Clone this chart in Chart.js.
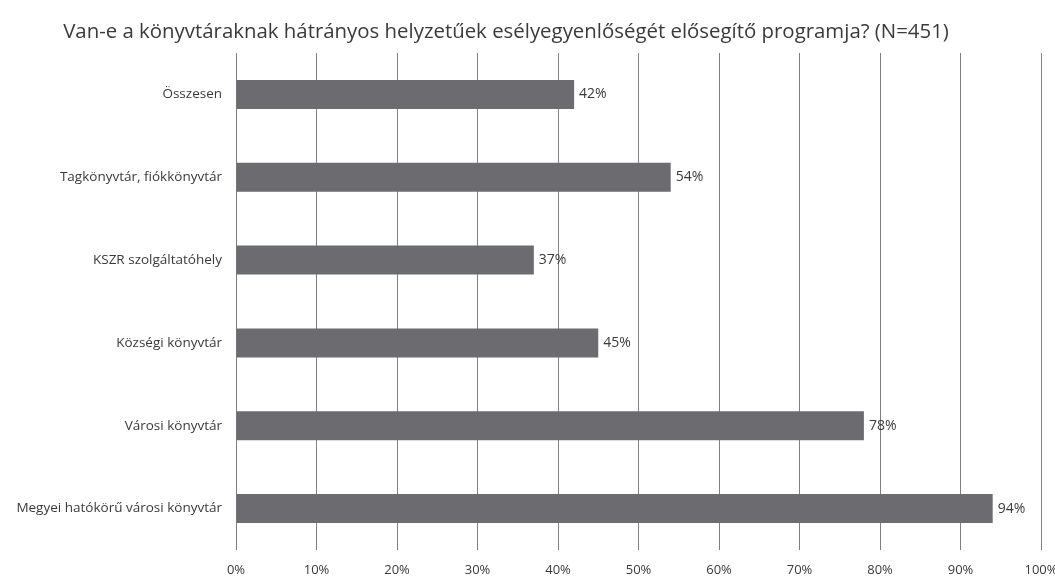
<!DOCTYPE html>
<html>
<head>
<meta charset="utf-8">
<script src="https://cdn.jsdelivr.net/npm/chart.js@4"></script>
<style>
    html, body { margin: 0; padding: 0; background: #fff; overflow: hidden; }
    #wrap { width: 1055px; height: 578px; }
</style>
</head>
<body>
<div id="wrap"><canvas id="chart"></canvas></div>
<script>
const title = 'Van-e a könyvtáraknak hátrányos helyzetűek esélyegyenlőségét elősegítő programja? (N=451)';
const categories = [
    'Összesen',
    'Tagkönyvtár, fiókkönyvtár',
    'KSZR szolgáltatóhely',
    'Községi könyvtár',
    'Városi könyvtár',
    'Megyei hatókörű városi könyvtár'
];
const values = [42, 54, 37, 45, 78, 94];
const xTicks = [0, 10, 20, 30, 40, 50, 60, 70, 80, 90, 100];

const fontFamily = '"Open Sans", "Noto Sans", sans-serif';
const textColor = '#3a3a3a';
const gridColor = '#808080';

// title is drawn by hand so it can sit slightly left of centre, as in the source
const titleText = {
    id: 'titleText',
    afterDraw(chart) {
        const { ctx } = chart;
        ctx.save();
        ctx.font = `20.4px ${fontFamily}`;
        ctx.fillStyle = textColor;
        ctx.textAlign = 'center';
        ctx.textBaseline = 'middle';
        ctx.fillText(title, 506, 32);
        ctx.restore();
    }
};

// labels to the right of each bar
const barLabels = {
    id: 'barLabels',
    afterDatasetsDraw(chart) {
        const { ctx } = chart;
        const meta = chart.getDatasetMeta(0);
        ctx.save();
        ctx.font = `14px ${fontFamily}`;
        ctx.fillStyle = textColor;
        ctx.textAlign = 'left';
        ctx.textBaseline = 'middle';
        meta.data.forEach((bar, i) => {
            ctx.fillText(values[i] + '%', bar.x + 5, bar.y);
        });
        ctx.restore();
    }
};

new Chart(document.getElementById('chart'), {
    type: 'bar',
    data: {
        labels: categories,
        datasets: [{
            data: values,
            backgroundColor: '#6c6c70',
            borderWidth: 0,
            categoryPercentage: 1,
            barPercentage: 0.35
        }]
    },
    options: {
        indexAxis: 'y',
        responsive: true,
        maintainAspectRatio: false,
        animation: false,
        layout: { padding: { left: 0, right: 14, top: 53, bottom: 0 } },
        plugins: {
            legend: { display: false },
            tooltip: { enabled: false },
            title: { display: false }
        },
        scales: {
            x: {
                min: 0,
                max: 100,
                afterBuildTicks: (scale) => { scale.ticks = xTicks.map(v => ({ value: v })); },
                afterFit: (scale) => { scale.paddingRight = 0; scale.paddingLeft = 0; scale.height = 28; },
                grid: { color: gridColor, lineWidth: 1, drawTicks: false },
                border: { display: false },
                ticks: {
                    color: textColor,
                    font: { family: fontFamily, size: 13 },
                    padding: 12,
                    maxRotation: 0,
                    autoSkip: false,
                    callback: (v) => v + '%'
                }
            },
            y: {
                afterFit: (scale) => { scale.width = 236; },
                grid: { display: false, drawTicks: false },
                border: { display: false },
                ticks: {
                    color: textColor,
                    font: { family: fontFamily, size: 13.5 },
                    padding: 14
                }
            }
        }
    },
    plugins: [barLabels, titleText]
});
</script>
</body>
</html>
